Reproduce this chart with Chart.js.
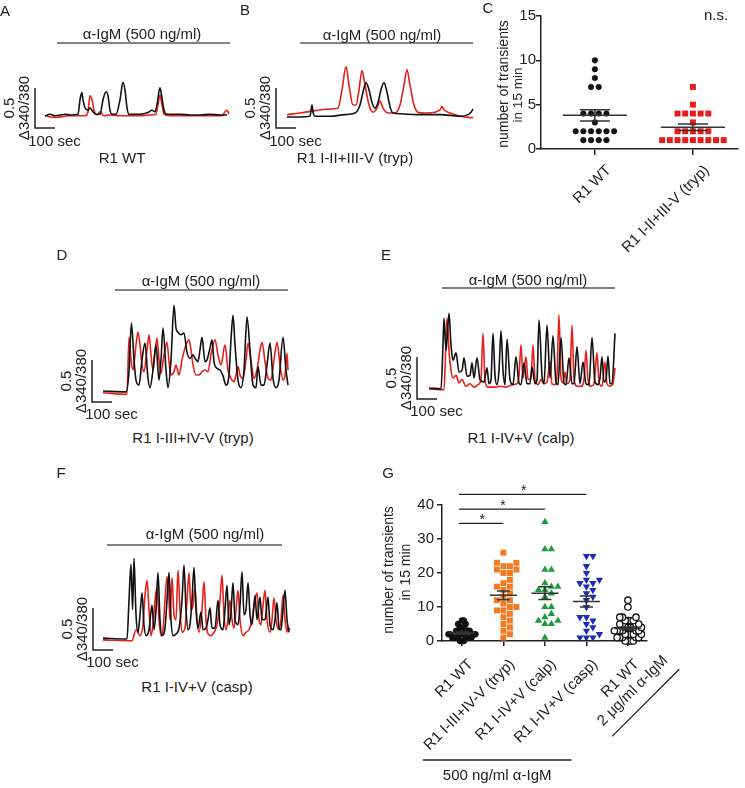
<!DOCTYPE html>
<html>
<head>
<meta charset="utf-8">
<script src="https://cdn.jsdelivr.net/npm/chart.js@4.4.1/dist/chart.umd.min.js"></script>
<style>
  body { margin: 0; background: #fff; }
  #fig { position: relative; width: 745px; height: 788px; overflow: hidden;
         font-family: 'Liberation Sans', Arial, Helvetica, sans-serif; color: #222; }
  #fig canvas { position: absolute; }
  .t { position: absolute; font-size: 15px; line-height: 15px; white-space: nowrap;
       transform: translate(-50%, -50%); }
  .r { transform: translate(-50%, -50%) rotate(-90deg); }
</style>
</head>
<body>
<div id="fig"></div>
<script>
const FONT = "'Liberation Sans', Arial, Helvetica, sans-serif";
const SEC_PER_PX = 5;
const BAR_SEC = 100, BAR_RATIO = 0.5;

// ---- calcium traces: [time (s), delta 340/380] ----
const traceA_black = [[0,-0.01],[25,0.01],[50,-0.01],[75,0],[100,0.01],[125,0],[165,0.01],[175,0.19],[184,0.28],[190,0.19],[200,0.09],[215,0.06],[225,0.09],[240,0.04],[255,0.01],[275,0.01],[290,0.19],[305,0.29],[315,0.24],[325,0.06],[335,0.01],[355,0.01],[375,0.19],[390,0.41],[400,0.31],[410,0.09],[420,0.01],[475,0.01],[515,0.03],[535,0.06],[550,0.04],[560,0.13],[575,0.34],[585,0.21],[595,0.06],[610,0.01],[675,0.01],[725,0],[775,0],[825,0.01],[875,0],[910,0]];
const traceA_red = [[0,-0.01],[50,-0.03],[125,-0.01],[200,-0.01],[215,0.04],[225,0.24],[235,0.19],[245,0.06],[260,0],[275,0.04],[295,-0.01],[325,0],[375,-0.01],[425,-0.01],[475,-0.01],[525,0],[555,0.01],[565,0.13],[575,0.25],[585,0.13],[595,0.01],[625,-0.01],[675,-0.01],[775,-0.01],[850,-0.01],[885,-0.01],[900,0.04],[910,0.06],[920,0.01]];
const traceB_black = [[0,0],[65,0],[115,0.01],[120,0.09],[125,0.15],[130,0.06],[140,0.01],[215,0.01],[290,0.03],[340,0.05],[365,0.15],[380,0.31],[395,0.43],[410,0.34],[425,0.18],[440,0.11],[455,0.18],[470,0.34],[485,0.43],[500,0.31],[515,0.13],[530,0.05],[565,0.04],[665,0.03],[765,0.03],[865,0.01],[905,0.03],[920,0.06],[930,0.10]];
const traceB_red = [[0,0.03],[65,0.05],[140,0.08],[215,0.10],[255,0.11],[275,0.34],[295,0.63],[310,0.40],[330,0.15],[345,0.15],[360,0.34],[375,0.58],[390,0.40],[410,0.15],[430,0.06],[450,0.11],[465,0.20],[480,0.11],[505,0.05],[540,0.05],[565,0.15],[585,0.40],[600,0.59],[615,0.40],[635,0.15],[655,0.06],[690,0.05],[740,0.06],[765,0.09],[775,0.13],[785,0.09],[815,0.05],[865,0.01],[930,-0.01]];
const traceD_black = [[0,0],[115,-0.01],[130,0.23],[142,0.81],[155,0.37],[165,0.13],[180,0.07],[195,0.37],[210,0.57],[225,0.15],[235,0.04],[250,0.25],[265,0.55],[280,0.13],[290,0.37],[300,0.75],[315,0.25],[325,0.04],[340,0.37],[355,1.02],[365,0.75],[375,0.70],[390,0.67],[405,0.69],[420,0.46],[435,0.39],[450,0.43],[460,0.39],[475,0.35],[485,0.49],[495,0.64],[510,0.35],[520,0.37],[535,0.51],[545,0.61],[555,0.35],[570,0.27],[585,0.25],[600,0.18],[615,0.07],[630,0.19],[640,0.61],[650,0.90],[660,0.55],[675,0.13],[690,0.04],[705,0.25],[720,0.88],[735,0.49],[750,0.07],[765,0.04],[775,0.29],[790,0.07],[805,0.07],[820,0.31],[835,0.57],[850,0.15],[865,0.04],[880,0.13],[900,0.64],[915,0.25],[925,0.07]];
const traceD_red = [[0,-0.02],[120,-0.04],[130,0.64],[140,0.37],[150,0.25],[165,0.55],[175,0.70],[185,0.55],[195,0.31],[205,0.23],[220,0.49],[230,0.67],[240,0.43],[250,0.25],[260,0.46],[270,0.63],[280,0.37],[290,0.21],[305,0.43],[320,0.58],[330,0.35],[340,0.19],[355,0.23],[365,0.31],[380,0.19],[395,0.37],[415,0.55],[430,0.61],[440,0.49],[450,0.31],[465,0.19],[480,0.19],[495,0.23],[510,0.25],[525,0.23],[540,0.43],[560,0.61],[575,0.43],[590,0.31],[610,0.55],[625,0.25],[640,0.15],[655,0.11],[665,0.19],[675,0.29],[685,0.19],[700,0.15],[715,0.37],[725,0.57],[740,0.35],[755,0.15],[770,0.25],[785,0.49],[795,0.58],[810,0.35],[825,0.15],[840,0.13],[855,0.37],[870,0.58],[885,0.31],[900,0.13],[910,0.19],[920,0.45],[925,0.25]];
const traceE_black = [[0,0],[60,-0.01],[70,0.51],[75,0.83],[85,0.45],[90,0.57],[100,0.89],[110,0.51],[120,0.33],[135,0.42],[150,0.19],[165,0.21],[175,0.36],[190,0.14],[205,0.15],[215,0.30],[225,0.12],[240,0.36],[255,0.10],[275,0.07],[290,0.24],[300,0.05],[310,0.10],[320,0.65],[330,0.15],[340,0.04],[350,0.21],[360,0.68],[370,0.21],[380,0.04],[390,0.58],[405,0.10],[420,0.04],[435,0.37],[450,0.06],[460,0.04],[475,0.30],[490,0.05],[505,0.05],[515,0.25],[530,0.05],[540,0.10],[550,0.81],[565,0.15],[575,0.05],[590,0.75],[605,0.12],[620,0.62],[635,0.07],[645,0.04],[660,0.60],[675,0.06],[685,0.04],[700,0.36],[715,0.05],[725,0.05],[740,0.49],[755,0.05],[770,0.31],[785,0.05],[800,0.04],[815,0.60],[830,0.07],[845,0.04],[855,0.12],[865,0.37],[875,0.07],[885,0.10],[895,0.38],[905,0.05],[915,0.05],[930,0.65]];
const traceE_red = [[0,-0.01],[75,-0.02],[85,0.57],[90,0.83],[100,0.45],[110,0.21],[120,0.12],[135,0.15],[150,0.06],[165,0.10],[185,0.02],[205,0.05],[225,0.01],[245,0.04],[260,0.10],[270,0.65],[280,0.10],[295,0.01],[330,0.01],[355,0.02],[385,0.01],[415,0.04],[440,0.05],[450,0.15],[460,0.51],[470,0.12],[485,0.37],[495,0.10],[510,0.12],[520,0.51],[530,0.10],[545,0.04],[560,0.10],[575,0.05],[590,0.07],[605,0.31],[615,0.05],[630,0.04],[640,0.15],[650,0.87],[660,0.12],[670,0.06],[680,0.19],[690,0.05],[705,0.10],[715,0.75],[725,0.12],[740,0.02],[760,0.02],[775,0.10],[785,0.45],[795,0.10],[810,0.02],[825,0.05],[840,0.42],[850,0.07],[865,0.02],[880,0.31],[890,0.05],[905,0.02],[920,0.05],[930,0.24]];
const traceF_black = [[0,0.01],[120,0],[130,0.46],[140,0.89],[148,0.35],[155,0.96],[165,0.29],[175,0.08],[185,0.29],[195,0.55],[205,0.17],[215,0.04],[230,0.11],[245,0.40],[255,0.11],[265,0.35],[275,0.79],[285,0.23],[295,0.04],[310,0.13],[320,0.46],[330,0.79],[340,0.23],[350,0.04],[365,0.06],[380,0.13],[395,0.46],[405,0.88],[415,0.35],[425,0.11],[435,0.17],[445,0.46],[455,0.85],[465,0.35],[475,0.13],[490,0.32],[500,0.11],[515,0.13],[525,0.23],[535,0.37],[545,0.13],[560,0.13],[575,0.46],[585,0.17],[600,0.11],[610,0.35],[620,0.64],[630,0.17],[640,0.32],[650,0.67],[660,0.23],[675,0.17],[685,0.40],[695,0.80],[705,0.29],[715,0.35],[725,0.67],[735,0.29],[745,0.17],[760,0.52],[770,0.23],[785,0.50],[795,0.23],[810,0.23],[825,0.50],[835,0.17],[850,0.11],[860,0.23],[870,0.43],[880,0.13],[890,0.11],[900,0.35],[910,0.58],[920,0.23],[930,0.08]];
const traceF_red = [[0,-0.01],[145,-0.02],[165,0.11],[185,0.04],[200,0.17],[210,0.52],[220,0.70],[230,0.35],[240,0.04],[250,0.17],[260,0.46],[270,0.61],[280,0.23],[290,0.04],[300,0.11],[310,0.46],[320,0.74],[330,0.46],[335,0.23],[345,0.73],[355,0.29],[365,0.23],[375,0.82],[385,0.35],[395,0.08],[410,0.13],[420,0.46],[430,0.79],[440,0.35],[450,0.40],[460,0.61],[470,0.23],[480,0.08],[495,0.35],[505,0.68],[515,0.23],[525,0.06],[540,0.04],[555,0.08],[570,0.17],[585,0.46],[595,0.76],[605,0.29],[615,0.11],[625,0.23],[635,0.46],[645,0.23],[655,0.13],[665,0.35],[675,0.58],[685,0.23],[700,0.04],[715,0.08],[730,0.11],[745,0.23],[760,0.46],[770,0.55],[780,0.23],[790,0.17],[800,0.40],[810,0.58],[820,0.23],[835,0.08],[845,0.23],[855,0.49],[865,0.23],[880,0.11],[890,0.23],[900,0.52],[910,0.23],[920,0.08],[925,0.14],[935,0.11]];

// ---- panel C: transients in 15 min ----
const catsC = [['R1 WT'], ['R1 I-II+III-V (tryp)']];
const countsC_wt = [10, 9, 8, 7, 7, 4, 4, 4, 4, 3, 2, 2, 2, 2, 2, 2, 1, 1, 1, 1];
const countsC_tryp = [7, 5, 4, 4, 4, 4, 4, 3, 2, 2, 2, 2, 2, 1, 1, 1, 1, 1, 1, 1, 1, 1];
const ticksC = [0, 5, 10, 15];

// ---- panel G ----
const catsG = [['R1 WT'], ['R1 I-III+IV-V (tryp)'], ['R1 I-IV+V (calp)'], ['R1 I-IV+V (casp)'], ['R1 WT', '2 μg/ml α-IgM']];
const countsG_wt = [6, 6, 5, 5, 4, 4, 4, 3, 3, 3, 3, 3, 2, 2, 2, 2, 2, 2, 2, 1, 1, 1, 1, 1, 1, 1, 1, 0, 0, 0];
const countsG_tryp = [26, 23, 23, 22, 22, 21, 21, 20, 20, 18, 17, 16, 16, 15, 14, 13, 12, 12, 11, 10, 10, 9, 9, 8, 7, 6, 5, 4, 3, 2, 1];
const countsG_calp = [35, 27, 27, 21, 21, 17, 16, 16, 15, 15, 14, 13, 10, 10, 8, 7, 6, 6, 5, 5, 1];
const countsG_casp = [25, 25, 22, 20, 18, 18, 17, 17, 16, 15, 14, 13, 12, 10, 7, 7, 6, 5, 4, 3, 2, 1, 1, 1];
const countsG_wt2 = [12, 10, 7, 7, 7, 6, 6, 6, 6, 5, 5, 5, 5, 4, 4, 4, 4, 4, 3, 3, 3, 3, 3, 3, 2, 2, 2, 2, 2, 1, 1, 1, 1, 1, 0, 0, 0, 0];
const sigPairsG = [[1, 2], [1, 3], [1, 4]];
const sigLevelsG = [34.6, 38.8, 43.1];

const fig = document.getElementById('fig');

function txt(s, x, y, rot, size) {
  const d = document.createElement('div');
  d.className = 't' + (rot ? ' r' : '');
  d.textContent = s;
  d.style.left = x + 'px';
  d.style.top = y + 'px';
  if (size) d.style.fontSize = size + 'px';
  fig.appendChild(d);
}

function addCanvas(left, top, w, h) {
  const cv = document.createElement('canvas');
  cv.width = w; cv.height = h;
  cv.style.left = left + 'px'; cv.style.top = top + 'px';
  fig.appendChild(cv);
  return cv;
}

// stimulus bar + scale bar, drawn through the chart scales
function tracePlugin(cfg) {
  return {
    id: 'traceDeco',
    afterDraw(chart) {
      const { ctx, scales: { x, y } } = chart;
      ctx.save();
      ctx.lineWidth = 1.5;
      ctx.strokeStyle = '#5a5a5a';
      const sy = cfg.stimY - cfg.top;
      ctx.beginPath();
      ctx.moveTo(x.getPixelForValue(cfg.stim[0]), sy);
      ctx.lineTo(x.getPixelForValue(cfg.stim[1]), sy);
      ctx.stroke();
      ctx.strokeStyle = '#222';
      const bx = x.getPixelForValue(cfg.barT);
      ctx.beginPath();
      ctx.moveTo(bx, y.getPixelForValue(cfg.barV + BAR_RATIO));
      ctx.lineTo(bx, y.getPixelForValue(cfg.barV));
      ctx.lineTo(x.getPixelForValue(cfg.barT + BAR_SEC), y.getPixelForValue(cfg.barV));
      ctx.stroke();
      ctx.restore();
    }
  };
}

function traceChart(cfg, black, red) {
  const cv = addCanvas(cfg.left, cfg.top, cfg.w, cfg.h);
  const xmin = (cfg.left - cfg.x0) * SEC_PER_PX;
  const xmax = xmin + cfg.w * SEC_PER_PX;
  const ymax = (cfg.base - cfg.top) / cfg.ppu;
  const ymin = ymax - cfg.h / cfg.ppu;
  const line = (pts, color) => ({
    data: pts.map(p => ({ x: p[0], y: p[1] })),
    showLine: true, borderColor: color, borderWidth: 1.6, pointRadius: 0,
    tension: 0.4, cubicInterpolationMode: 'monotone', clip: false
  });
  new Chart(cv, {
    type: 'scatter',
    data: { datasets: [line(black, '#111'), line(red, '#e8201c')] },
    options: {
      responsive: false, animation: false, events: [],
      layout: { padding: 0 },
      plugins: { legend: { display: false }, tooltip: { enabled: false } },
      scales: {
        x: { type: 'linear', display: false, min: xmin, max: xmax },
        y: { type: 'linear', display: false, min: ymin, max: ymax }
      }
    },
    plugins: [tracePlugin(cfg)]
  });
  const bx = cfg.x0 + cfg.barT / SEC_PER_PX;
  const bb = cfg.base - cfg.barV * cfg.ppu;
  const mid = bb - BAR_RATIO * cfg.ppu / 2;
  txt('0.5', bx - 27, mid, true);
  txt('Δ340/380', bx - 12.5, mid, true);
  txt('100 sec', bx + 19.5, bb + 11.5);
  txt('α-IgM (500 ng/ml)', cfg.stimText[0], cfg.stimText[1]);
  txt(cfg.caption, cfg.capPos[0], cfg.capPos[1]);
}

traceChart({ left: 28, top: 38, w: 210, h: 100, x0: 45, base: 115, ppu: 80, stim: [60, 925], stimY: 43,
  barT: -50, barV: -0.1625, stimText: [142, 33], caption: 'R1 WT', capPos: [122, 157] }, traceA_black, traceA_red);
traceChart({ left: 268, top: 38, w: 210, h: 100, x0: 287, base: 117, ppu: 80, stim: [65, 930], stimY: 43,
  barT: -55, barV: -0.1375, stimText: [382, 34], caption: 'R1 I-II+III-V (tryp)', capPos: [355, 157] }, traceB_black, traceB_red);
traceChart({ left: 85, top: 284, w: 212, h: 126, x0: 103, base: 391, ppu: 84, stim: [60, 925], stimY: 290,
  barT: -55, barV: -0.13, stimText: [201, 280], caption: 'R1 I-III+IV-V (tryp)', capPos: [193, 437] }, traceD_black, traceD_red);
traceChart({ left: 408, top: 282, w: 214, h: 126, x0: 429, base: 388, ppu: 84, stim: [65, 930], stimY: 288,
  barT: -60, barV: -0.13, stimText: [528, 279], caption: 'R1 I-IV+V (calp)', capPos: [521, 437] }, traceE_black, traceE_red);
traceChart({ left: 85, top: 539, w: 212, h: 121, x0: 103, base: 639, ppu: 84, stim: [20, 895], stimY: 545,
  barT: -50, barV: -0.13, stimText: [205, 533], caption: 'R1 I-IV+V (casp)', capPos: [197, 686] }, traceF_black, traceF_red);

// simple beeswarm: offsets so that markers don't overlap (in pixel space)
function swarm(vals, center, pxX, pxY, diam, maxHalf, centerRows) {
  const sorted = vals.slice().sort((a, b) => a - b);
  const placed = [];
  const step = diam / 2;
  sorted.forEach(v => {
    const y = v * pxY;
    let off = 0;
    for (let i = 0; i < 400; i++) {
      const cand = i === 0 ? 0 : (i % 2 ? 1 : -1) * Math.ceil(i / 2) * step;
      if (placed.every(p => (p.x - cand) ** 2 + (p.y - y) ** 2 >= diam * diam * 0.92)) { off = cand; break; }
    }
    placed.push({ x: off, y, v });
  });
  if (centerRows) {
    const groups = {};
    placed.forEach(p => (groups[p.v] = groups[p.v] || []).push(p));
    Object.values(groups).forEach(g => {
      const m = g.reduce((s, p) => s + p.x, 0) / g.length;
      g.forEach(p => (p.x -= m));
    });
  }
  const ext = Math.max(...placed.map(p => Math.abs(p.x)), 0.001);
  const k = ext > maxHalf ? maxHalf / ext : 1;
  return placed.map(p => ({ x: center + p.x * k / pxX, y: p.v }));
}

function meanSem(vals) {
  const n = vals.length;
  const m = vals.reduce((a, b) => a + b, 0) / n;
  const sd = Math.sqrt(vals.reduce((a, b) => a + (b - m) ** 2, 0) / (n - 1));
  return [m, sd / Math.sqrt(n)];
}

const meanPlugin = {
  id: 'meanSem',
  afterDatasetsDraw(chart, args, opts) {
    const { ctx, scales: { x, y } } = chart;
    ctx.save();
    ctx.strokeStyle = '#333';
    ctx.lineWidth = 1.5;
    chart.data.datasets.forEach(ds => {
      const [m, se] = meanSem(ds.vals);
      const cx = x.getPixelForValue(ds.cx);
      const ym = y.getPixelForValue(m), yt = y.getPixelForValue(m + se), yb = y.getPixelForValue(m - se);
      ctx.beginPath();
      ctx.moveTo(cx - opts.half, ym); ctx.lineTo(cx + opts.half, ym);
      ctx.moveTo(cx, yt); ctx.lineTo(cx, yb);
      ctx.moveTo(cx - opts.cap, yt); ctx.lineTo(cx + opts.cap, yt);
      ctx.moveTo(cx - opts.cap, yb); ctx.lineTo(cx + opts.cap, yb);
      ctx.stroke();
    });
    ctx.restore();
  }
};

function rotLabel(ctx, lines, ax, ay, lh) {
  ctx.save();
  ctx.translate(ax, ay);
  ctx.rotate(-Math.PI / 4);
  ctx.textBaseline = 'middle';
  const w0 = ctx.measureText(lines[0]).width;
  lines.forEach((s, i) => {
    if (i === 0) { ctx.textAlign = 'right'; ctx.fillText(s, 0, 0); }
    else { ctx.textAlign = 'center'; ctx.fillText(s, -w0 / 2, i * lh); }
  });
  ctx.restore();
}

function labelPlugin(cats, dx, dy) {
  return {
    id: 'catLabels',
    afterDraw(chart) {
      const { ctx, scales: { x }, chartArea } = chart;
      ctx.save();
      ctx.fillStyle = '#222';
      ctx.font = '15px ' + FONT;
      cats.forEach((c, i) => rotLabel(ctx, c, x.getPixelForValue(i + 1) + dx, chartArea.bottom + dy, 17.5));
      ctx.restore();
    }
  };
}

const axisCommon = {
  grid: { display: true, drawOnChartArea: false, drawTicks: true, tickLength: 5, color: '#222', lineWidth: 1.5 },
  border: { display: true, color: '#222', width: 1.5 }
};

function dotDataset(vals, cx, style, r, fill, stroke, sw, swarmArgs, rot) {
  return {
    data: swarm(vals, cx, ...swarmArgs), vals, cx,
    pointStyle: style, pointRadius: r, rotation: rot || 0,
    backgroundColor: fill, borderColor: stroke, borderWidth: sw, clip: false
  };
}

// ---- panel C ----
{
  const cv = addCanvas(480, 0, 265, 270);
  const sw = [98, 8.87, 7.7, 33, true];
  const dsets = [
    dotDataset(countsC_wt, 1, 'circle', 2.8, '#111', '#111', 0.5, sw),
    dotDataset(countsC_tryp, 2, 'rect', 4.2, '#e81c1c', '#e81c1c', 0, sw)
  ];
  new Chart(cv, {
    type: 'scatter',
    data: { datasets: dsets },
    options: {
      responsive: false, animation: false, events: [],
      layout: { padding: { top: 16, right: 7, left: 0, bottom: 0 } },
      plugins: { legend: { display: false }, tooltip: { enabled: false }, meanSem: { half: 32, cap: 15 } },
      scales: {
        x: { type: 'linear', min: 0.45, max: 2.46, ...axisCommon,
             grid: { ...axisCommon.grid, tickLength: 6 },
             ticks: { display: false },
             afterBuildTicks: s => { s.ticks = catsC.map((c, i) => ({ value: i + 1 })); },
             afterFit: s => { s.height = 121; } },
        y: { type: 'linear', min: 0, max: 15, ...axisCommon,
             afterBuildTicks: s => { s.ticks = ticksC.map(v => ({ value: v })); },
             ticks: { color: '#222', font: { family: FONT, size: 15 }, padding: 0 },
             afterFit: s => { s.width = 61; } }
      }
    },
    plugins: [meanPlugin, labelPlugin(catsC, 14, 19)]
  });
  txt('number of transients', 503, 84, true, 14);
  txt('in 15 min', 517, 95, true, 13.5);
  txt('n.s.', 716, 14);
}

// ---- panel G ----
{
  const cv = addCanvas(370, 470, 375, 318);
  const sw = [41.5, 3.4, 6.5, 13.5, false];
  const dsets = [
    dotDataset(countsG_wt, 1, 'circle', 3, '#111', '#111', 0.5, sw),
    dotDataset(countsG_tryp, 2, 'rect', 4.2, '#f47a22', '#f47a22', 0, sw),
    dotDataset(countsG_calp, 3, 'triangle', 4.2, '#1f9b3d', '#1f9b3d', 0, sw),
    dotDataset(countsG_casp, 4, 'triangle', 4.2, '#1e2bb8', '#1e2bb8', 0, sw, 180),
    dotDataset(countsG_wt2, 5, 'circle', 3.2, '#fff', '#111', 1.3, sw)
  ];
  const gDeco = {
    id: 'gDeco',
    afterDraw(chart) {
      const { ctx, scales: { x, y }, chartArea } = chart;
      ctx.save();
      ctx.strokeStyle = '#222';
      ctx.fillStyle = '#222';
      ctx.lineWidth = 1.3;
      ctx.font = '14px ' + FONT;
      ctx.textAlign = 'center';
      ctx.textBaseline = 'alphabetic';
      sigPairsG.forEach((p, i) => {
        const x1 = x.getPixelForValue(p[0]) - 3, x2 = x.getPixelForValue(p[1]);
        const yy = y.getPixelForValue(sigLevelsG[i]);
        ctx.beginPath(); ctx.moveTo(x1, yy); ctx.lineTo(x2, yy); ctx.stroke();
        ctx.fillText('*', (x1 + x2) / 2 + 1, yy + 1);
      });
      // bracket under the first four groups
      const by = chartArea.bottom + 119;
      ctx.beginPath();
      ctx.moveTo(x.getPixelForValue(1) - 39, by);
      ctx.lineTo(x.getPixelForValue(4) - 15, by);
      ctx.stroke();
      ctx.font = '15px ' + FONT;
      ctx.textBaseline = 'middle';
      ctx.fillText('500 ng/ml α-IgM', (x.getPixelForValue(1) - 39 + x.getPixelForValue(4) - 15) / 2, by + 16);
      // underline of the last label
      ctx.save();
      ctx.translate(x.getPixelForValue(5) + 4, chartArea.bottom + 19);
      ctx.rotate(-Math.PI / 4);
      ctx.beginPath(); ctx.moveTo(-68, 40); ctx.lineTo(27, 40); ctx.stroke();
      ctx.restore();
      ctx.restore();
    }
  };
  new Chart(cv, {
    type: 'scatter',
    data: { datasets: dsets },
    options: {
      responsive: false, animation: false, events: [],
      layout: { padding: { top: 35, right: 98, left: 0, bottom: 0 } },
      plugins: { legend: { display: false }, tooltip: { enabled: false }, meanSem: { half: 13.5, cap: 6.5 } },
      scales: {
        x: { type: 'linear', min: 0.52, max: 5.46, ...axisCommon,
             ticks: { display: false },
             afterBuildTicks: s => { s.ticks = catsG.map((c, i) => ({ value: i + 1 })); },
             afterFit: s => { s.height = 147; } },
        y: { type: 'linear', min: 0, max: 40, ...axisCommon,
             ticks: { stepSize: 10, color: '#222', font: { family: FONT, size: 15 }, padding: 3 },
             afterFit: s => { s.width = 72; } }
      }
    },
    plugins: [meanPlugin, labelPlugin(catsG, 9, 21), gDeco]
  });
  txt('number of transients', 388, 570, true, 14);
  txt('in 15 min', 405, 572, true, 14);
}

// panel letters
[['A', 5, 10], ['B', 245, 9], ['C', 488, 7], ['D', 62, 254], ['E', 386, 254], ['F', 61, 472], ['G', 388, 472]]
  .forEach(l => txt(l[0], l[1], l[2]));
</script>
</body>
</html>
